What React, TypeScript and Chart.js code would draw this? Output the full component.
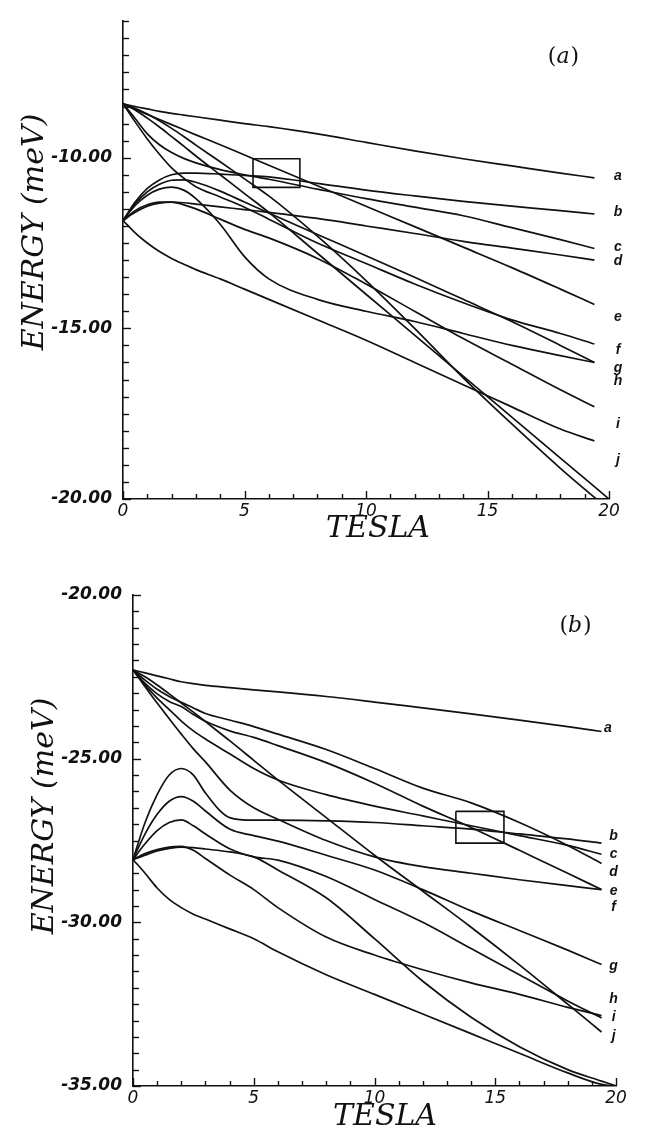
import { useEffect, useRef } from "react";
import { Chart, registerables } from "chart.js";

Chart.register(...registerables);

// ---------- shared axis data ----------
const fieldTesla = [0, 0.5, 1, 1.5, 2, 2.5, 3, 4, 5, 6, 8, 10, 12, 14, 16, 18, 19.4, 20];
const xTickLabels = [0, 5, 10, 15, 20];

// ---------- panel (a) ----------
const topYTickLabels = [-10, -15, -20];
const topLevelA = [-8.42, -8.5, -8.57, -8.64, -8.7, -8.75, -8.8, -8.9, -9.0, -9.09, -9.3, -9.55, -9.8, -10.03, -10.24, -10.45, -10.59, null];
const topLevelB = [-11.84, -11.3, -10.9, -10.65, -10.5, -10.45, -10.45, -10.48, -10.52, -10.56, -10.75, -10.95, -11.12, -11.28, -11.42, -11.55, -11.65, null];
const topLevelC = [-8.42, -8.85, -9.3, -9.62, -9.85, -10.02, -10.15, -10.35, -10.5, -10.63, -10.92, -11.2, -11.45, -11.7, -12.05, -12.4, -12.66, null];
const topLevelD = [-11.84, -11.6, -11.42, -11.33, -11.3, -11.32, -11.36, -11.44, -11.52, -11.6, -11.78, -12.0, -12.22, -12.45, -12.65, -12.85, -13.0, null];
const topLevelE = [-8.42, -8.58, -8.73, -8.88, -9.03, -9.18, -9.33, -9.62, -9.92, -10.22, -10.82, -11.42, -12.02, -12.62, -13.22, -13.85, -14.3, null];
const topLevelF = [-8.42, -8.95, -9.45, -9.9, -10.3, -10.6, -10.85, -11.15, -11.45, -11.8, -12.5, -13.1, -13.7, -14.25, -14.75, -15.15, -15.46, null];
const topLevelG = [-11.84, -11.4, -11.1, -10.92, -10.86, -10.95, -11.2, -11.95, -12.9, -13.55, -14.15, -14.5, -14.8, -15.15, -15.5, -15.8, -16.0, null];
const topLevelH = [-11.84, -11.35, -11.0, -10.78, -10.66, -10.65, -10.72, -10.98, -11.3, -11.62, -12.25, -12.87, -13.5, -14.15, -14.8, -15.5, -16.0, null];
const topLevelI = [-11.84, -11.55, -11.38, -11.3, -11.3, -11.38, -11.5, -11.8, -12.1, -12.35, -12.95, -13.7, -14.5, -15.3, -16.05, -16.8, -17.3, null];
const topLevelJ = [-11.84, -12.2, -12.5, -12.75, -12.95, -13.12, -13.28, -13.55, -13.85, -14.15, -14.75, -15.35, -16.0, -16.65, -17.3, -17.95, -18.3, null];
const topLevelK = [-8.42, -8.6, -8.84, -9.1, -9.38, -9.66, -9.95, -10.5, -11.05, -11.6, -12.8, -14.0, -15.2, -16.4, -17.6, -18.8, -19.64, -20.0];
const topLevelL = [-8.42, -8.55, -8.72, -8.92, -9.14, -9.38, -9.63, -10.12, -10.62, -11.12, -12.3, -13.6, -15.0, -16.45, -17.8, -19.1, -19.95, -20.3];
const topBoxTesla = [5.35, 7.28, 7.28, 5.35, 5.35];
const topBoxEnergy = [-10.03, -10.03, -10.87, -10.87, -10.03];
const topCurveNames = ["a", "b", "c", "d", "e", "f", "g", "h", "i", "j"];
const topCurveNameTesla = [20.37, 20.37, 20.37, 20.37, 20.37, 20.37, 20.37, 20.37, 20.37, 20.37];
const topCurveNameEnergy = [-10.55, -11.59, -12.63, -13.04, -14.68, -15.63, -16.18, -16.56, -17.8, -18.87];

// ---------- panel (b) ----------
const bottomYTickLabels = [-20, -25, -30, -35];
const botLevelA = [-22.29, -22.38, -22.47, -22.56, -22.65, -22.71, -22.76, -22.83, -22.9, -22.96, -23.1, -23.27, -23.45, -23.63, -23.82, -24.02, -24.17, null];
const botLevelB = [-28.08, -26.95, -26.1, -25.5, -25.3, -25.5, -26.05, -26.8, -26.88, -26.88, -26.9, -26.95, -27.05, -27.15, -27.3, -27.45, -27.58, null];
const botLevelC = [-22.29, -22.75, -23.15, -23.5, -23.85, -24.15, -24.4, -24.85, -25.3, -25.65, -26.1, -26.45, -26.75, -27.05, -27.35, -27.65, -27.92, null];
const botLevelD = [-22.29, -22.6, -22.88, -23.1, -23.28, -23.45, -23.62, -23.82, -24.02, -24.25, -24.72, -25.3, -25.9, -26.35, -26.95, -27.65, -28.2, null];
const botLevelE = [-22.29, -22.7, -23.02, -23.25, -23.41, -23.65, -23.86, -24.15, -24.35, -24.6, -25.12, -25.75, -26.45, -27.1, -27.8, -28.5, -29.0, null];
const botLevelF = [-22.29, -22.8, -23.3, -23.78, -24.25, -24.7, -25.1, -25.95, -26.5, -26.85, -27.5, -28.0, -28.3, -28.5, -28.7, -28.88, -29.0, null];
const botLevelG = [-28.08, -27.3, -26.7, -26.3, -26.16, -26.3, -26.6, -27.15, -27.35, -27.52, -27.95, -28.4, -29.0, -29.65, -30.25, -30.85, -31.29, null];
const botLevelH = [-28.08, -27.9, -27.78, -27.7, -27.68, -27.8, -28.05, -28.55, -29.0, -29.55, -30.45, -31.0, -31.45, -31.85, -32.2, -32.6, -32.85, null];
const botLevelI = [-28.08, -27.6, -27.2, -26.95, -26.87, -27.05, -27.3, -27.75, -28.0, -28.1, -28.6, -29.3, -30.0, -30.8, -31.6, -32.4, -32.92, null];
const botLevelJ = [-22.29, -22.5, -22.75, -23.02, -23.3, -23.58, -23.87, -24.45, -25.05, -25.65, -26.8, -27.95, -29.05, -30.15, -31.3, -32.5, -33.35, null];
const botLevelK = [-28.08, -27.95, -27.82, -27.74, -27.7, -27.72, -27.76, -27.85, -28.0, -28.4, -29.25, -30.5, -31.8, -32.9, -33.8, -34.5, -34.85, -35.0];
const botLevelL = [-28.08, -28.5, -28.95, -29.3, -29.55, -29.75, -29.9, -30.2, -30.5, -30.9, -31.6, -32.2, -32.8, -33.4, -34.0, -34.6, -34.95, -35.0];
const botBoxTesla = [13.37, 15.36, 15.36, 13.37, 13.37];
const botBoxEnergy = [-26.61, -26.61, -27.58, -27.58, -26.61];
const botCurveNames = ["a", "b", "c", "d", "e", "f", "g", "h", "i", "j"];
const botCurveNameTesla = [19.66, 19.9, 19.9, 19.9, 19.9, 19.9, 19.9, 19.9, 19.9, 19.9];
const botCurveNameEnergy = [-24.06, -27.38, -27.93, -28.48, -29.06, -29.55, -31.35, -32.35, -32.9, -33.48];

const INK = "#111";

type Panel = {
  id: string;
  tag: string;
  height: number;
  levels: (number | null)[][];
  yMin: number;
  yMax: number;
  yLabels: number[];
  boxT: number[];
  boxE: number[];
  names: string[];
  nameT: number[];
  nameE: number[];
  leftWidth: number;
  padRight: number;
  padTop: number;
  xAxisHeight: number;
  tagPos: [number, number];
  xTitlePos: [number, number];
  yTitlePos: [number, number];
};

const topPanel: Panel = {
  id: "a",
  tag: "a",
  height: 560,
  levels: [topLevelA, topLevelB, topLevelC, topLevelD, topLevelE, topLevelF, topLevelG, topLevelH, topLevelI, topLevelJ, topLevelK, topLevelL],
  yMin: -20,
  yMax: -6,
  yLabels: topYTickLabels,
  boxT: topBoxTesla,
  boxE: topBoxEnergy,
  names: topCurveNames,
  nameT: topCurveNameTesla,
  nameE: topCurveNameEnergy,
  leftWidth: 123,
  padRight: 40,
  padTop: 14,
  xAxisHeight: 61,
  tagPos: [563, 57],
  xTitlePos: [378, 529],
  yTitlePos: [43, 232],
};

const bottomPanel: Panel = {
  id: "b",
  tag: "b",
  height: 574,
  levels: [botLevelA, botLevelB, botLevelC, botLevelD, botLevelE, botLevelF, botLevelG, botLevelH, botLevelI, botLevelJ, botLevelK, botLevelL],
  yMin: -35,
  yMax: -20,
  yLabels: bottomYTickLabels,
  boxT: botBoxTesla,
  boxE: botBoxEnergy,
  names: botCurveNames,
  nameT: botCurveNameTesla,
  nameE: botCurveNameEnergy,
  leftWidth: 133,
  padRight: 33,
  padTop: 35,
  xAxisHeight: 48,
  tagPos: [575, 66],
  xTitlePos: [385, 557],
  yTitlePos: [53, 256],
};

function decorPlugin(p: Panel) {
  return {
    id: "decor" + p.id,
    afterDraw(chart: any) {
      const { ctx, chartArea: area } = chart;
      const xs = chart.scales.x;
      const ys = chart.scales.y;
      ctx.save();
      ctx.strokeStyle = INK;
      ctx.lineWidth = 1.4;
      // inward tick marks
      ys.ticks.forEach((t: any) => {
        const py = Math.round(ys.getPixelForValue(t.value)) + 0.5;
        const major = p.yLabels.includes(t.value);
        ctx.beginPath();
        ctx.moveTo(area.left, py);
        ctx.lineTo(area.left + (major ? 8 : 6), py);
        ctx.stroke();
      });
      xs.ticks.forEach((t: any) => {
        const px = Math.round(xs.getPixelForValue(t.value)) + 0.5;
        const major = xTickLabels.includes(t.value);
        ctx.beginPath();
        ctx.moveTo(px, area.bottom);
        ctx.lineTo(px, area.bottom - (major ? 8 : 5));
        ctx.stroke();
      });
      // curve labels
      ctx.fillStyle = INK;
      ctx.font = 'italic bold 14px "Liberation Sans"';
      ctx.textAlign = "center";
      ctx.textBaseline = "middle";
      p.names.forEach((n, i) => {
        ctx.fillText(n, xs.getPixelForValue(p.nameT[i]), ys.getPixelForValue(p.nameE[i]));
      });
      // panel tag "(a)" / "(b)"
      const upright = '22px "DejaVu Serif"';
      const slanted = 'italic 22px "DejaVu Serif"';
      ctx.font = upright;
      const wp = ctx.measureText("(").width;
      const wq = ctx.measureText(")").width;
      ctx.font = slanted;
      const wl = ctx.measureText(p.tag).width;
      let cx = p.tagPos[0] - (wp + wl + wq) / 2;
      ctx.textAlign = "left";
      ctx.font = upright;
      ctx.fillText("(", cx, p.tagPos[1]);
      cx += wp;
      ctx.font = slanted;
      ctx.fillText(p.tag, cx, p.tagPos[1]);
      cx += wl + 1;
      ctx.font = upright;
      ctx.fillText(")", cx, p.tagPos[1]);
      // axis titles
      ctx.font = 'italic 30px "DejaVu Serif"';
      ctx.textAlign = "center";
      ctx.textBaseline = "middle";
      ctx.fillText("TESLA", p.xTitlePos[0], p.xTitlePos[1]);
      ctx.translate(p.yTitlePos[0], p.yTitlePos[1]);
      ctx.rotate(-Math.PI / 2);
      ctx.textBaseline = "alphabetic";
      ctx.fillText("ENERGY (meV)", 0, 0);
      ctx.restore();
    },
  };
}

function makeConfig(p: Panel): any {
  const curveSets = p.levels.map((vals, k) => ({
    label: "level " + (k + 1),
    data: fieldTesla.map((t, i) => ({ x: t, y: vals[i] })),
    borderColor: INK,
    borderWidth: 1.7,
    pointRadius: 0,
    cubicInterpolationMode: "monotone",
    fill: false,
  }));
  const boxSet = {
    label: "box",
    data: p.boxT.map((t, i) => ({ x: t, y: p.boxE[i] })),
    borderColor: INK,
    borderWidth: 1.6,
    pointRadius: 0,
    tension: 0,
    fill: false,
  };
  return {
    type: "line",
    data: { datasets: [...curveSets, boxSet] },
    options: {
      animation: false,
      responsive: false,
      devicePixelRatio: 1,
      layout: { padding: { left: 0, right: p.padRight, top: p.padTop, bottom: 0 } },
      plugins: { legend: { display: false }, tooltip: { enabled: false } },
      scales: {
        x: {
          type: "linear",
          position: "bottom",
          min: 0,
          max: 20,
          afterFit: (s: any) => {
            s.height = p.xAxisHeight;
          },
          grid: { display: false, drawTicks: false },
          border: { display: true, color: INK, width: 1.6 },
          ticks: {
            stepSize: 1,
            autoSkip: false,
            maxRotation: 0,
            padding: 2,
            color: INK,
            font: { family: '"DejaVu Sans"', style: "italic", size: 17 },
            callback: (v: number) => (xTickLabels.includes(v) ? String(v) : ""),
          },
        },
        y: {
          type: "linear",
          position: "left",
          min: p.yMin,
          max: p.yMax,
          afterFit: (s: any) => {
            s.width = p.leftWidth;
          },
          grid: { display: false, drawTicks: false },
          border: { display: true, color: INK, width: 1.6 },
          ticks: {
            stepSize: 0.5,
            autoSkip: false,
            padding: 11,
            color: INK,
            font: { family: '"DejaVu Sans"', style: "italic", weight: "bold", size: 17 },
            callback: (v: number) => (p.yLabels.includes(v) ? v.toFixed(2) : ""),
          },
        },
      },
    },
    plugins: [decorPlugin(p)],
  };
}

export default function App() {
  const topRef = useRef<HTMLCanvasElement>(null);
  const botRef = useRef<HTMLCanvasElement>(null);

  useEffect(() => {
    const c1 = new Chart(topRef.current as HTMLCanvasElement, makeConfig(topPanel));
    const c2 = new Chart(botRef.current as HTMLCanvasElement, makeConfig(bottomPanel));
    return () => {
      c1.destroy();
      c2.destroy();
    };
  }, []);

  return (
    <div style={{ position: "absolute", left: 0, top: 0, width: 649, height: 1134, background: "#fff", overflow: "hidden" }}>
      <canvas
        ref={topRef}
        width={649}
        height={560}
        style={{ position: "absolute", left: 0, top: 0, width: 649, height: 560 }}
      />
      <canvas
        ref={botRef}
        width={649}
        height={574}
        style={{ position: "absolute", left: 0, top: 560, width: 649, height: 574 }}
      />
    </div>
  );
}
